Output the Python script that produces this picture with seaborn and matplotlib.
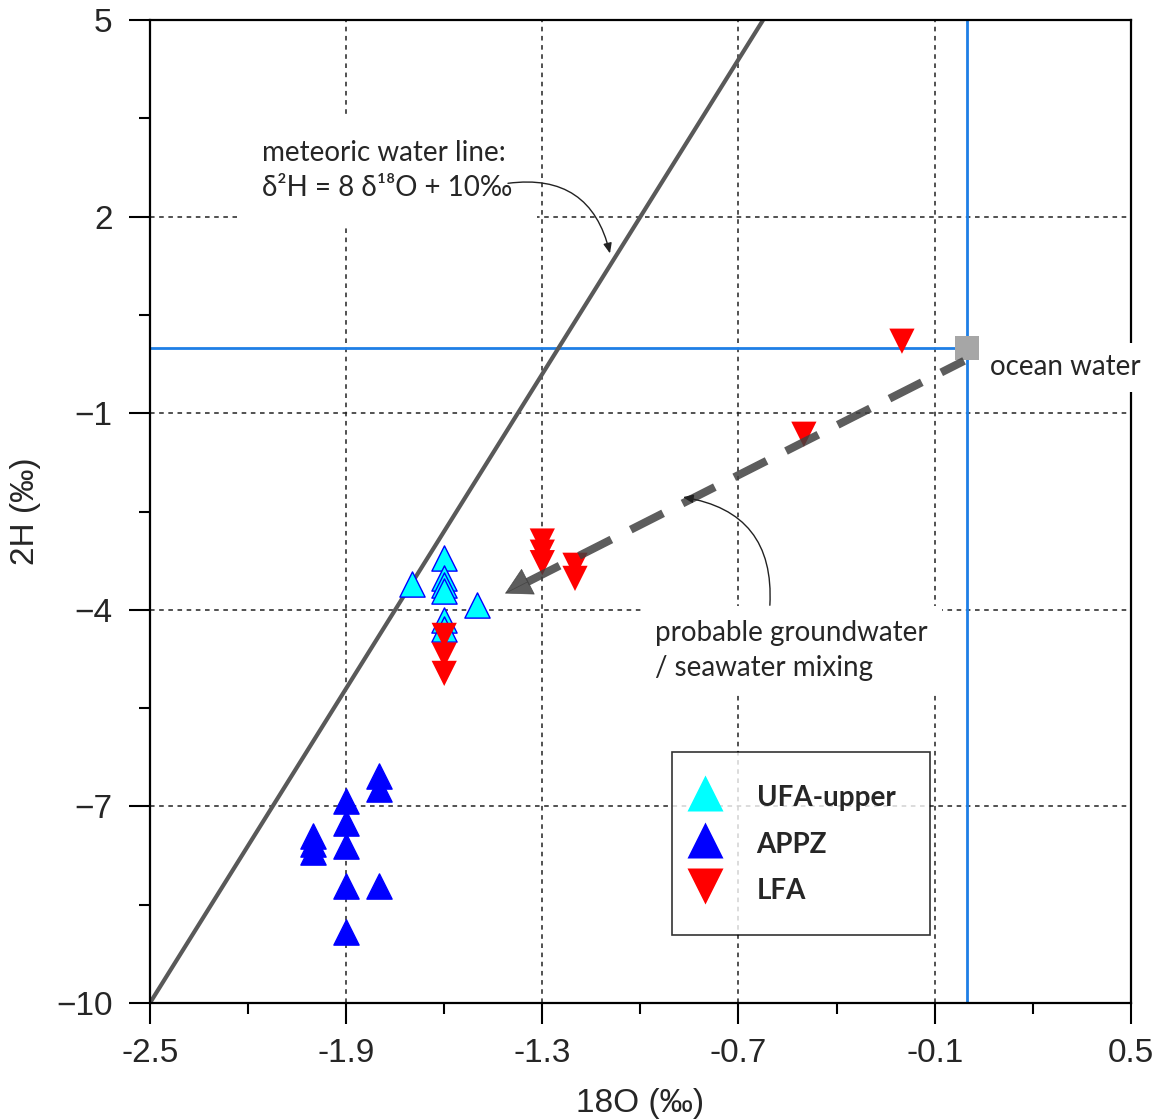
import numpy as np
import pandas as pd
import matplotlib
matplotlib.use("Agg")
import matplotlib.pyplot as plt
import seaborn as sns
from matplotlib.lines import Line2D

# ---- data ----
ufa_x = [-1.7, -1.6, -1.6, -1.6, -1.6, -1.5, -1.6, -1.6]
ufa_y = [-3.61, -3.21, -3.52, -3.62, -3.72, -3.92, -4.16, -4.30]
appz_x = [-2.0, -2.0, -2.0, -1.9, -1.9, -1.9, -1.9, -1.9, -1.8, -1.8, -1.8]
appz_y = [-7.45, -7.58, -7.70, -6.92, -7.26, -7.61, -8.21, -8.91, -6.53, -6.73, -8.21]
lfa_x = [-1.3, -1.3, -1.3, -1.2, -1.2, -1.6, -1.6, -1.6, -0.5, -0.2]
lfa_y = [-2.95, -3.12, -3.28, -3.32, -3.52, -4.39, -4.69, -4.97, -1.32, 0.10]
ocean_x, ocean_y = [0.0], [0.0]
mwl_slope, mwl_intercept = 8.0, 10.0

x_ticks = [-2.5, -1.9, -1.3, -0.7, -0.1, 0.5]
x_minor = [-2.2, -1.6, -1.0, -0.4, 0.2]
y_ticks = [-10, -7, -4, -1, 2, 5]
y_minor = [-8.5, -5.5, -2.5, 0.5, 3.5]
x_labels = ["-2.5", "-1.9", "-1.3", "-0.7", "-0.1", "0.5"]
y_labels = ["\u221210", "\u22127", "\u22124", "\u22121", "2", "5"]
legend_labels = ["UFA-upper", "APPZ", "LFA"]

sns.set_style("white")
plt.rcParams['font.family'] = ['Liberation Sans', 'DejaVu Sans']

fig = plt.figure(figsize=(11.67, 11.2), dpi=100)
ax = fig.add_axes([0.1285, 0.1045, 0.8405, 0.8775])
ax.set_xlim(-2.5, 0.5)
ax.set_ylim(-10, 5)

# grid
gkw = dict(color='#222222', lw=1.1, ls=(0, (3, 3)), zorder=0.5)
for xv in x_ticks[1:-1]:
    ax.axvline(xv, **gkw)
for yv in y_ticks[1:-1]:
    ax.axhline(yv, **gkw)

# blue reference lines (ocean water)
ax.axvline(ocean_x[0], color='#1e7fe6', lw=2, zorder=1)
ax.plot([-2.5, ocean_x[0]], [ocean_y[0], ocean_y[0]], color='#1e7fe6', lw=2, zorder=1)

# meteoric water line
mx = np.array([-2.5, (5 - mwl_intercept) / mwl_slope])
sns.lineplot(x=mx, y=mwl_slope * mx + mwl_intercept, ax=ax, color='#595959', lw=3, zorder=2)

# scatter groups
ms = 330
sns.scatterplot(x=ufa_x, y=ufa_y, ax=ax, marker='^', s=ms, color='#00ffff',
                edgecolor='#0000ff', linewidth=1, zorder=3)
sns.scatterplot(x=appz_x, y=appz_y, ax=ax, marker='^', s=ms, color='#0000ff',
                edgecolor='#0000ff', linewidth=1, zorder=3)
sns.scatterplot(x=lfa_x, y=lfa_y, ax=ax, marker='v', s=ms, color='#ff0000',
                edgecolor='none', linewidth=0, zorder=4)
sns.scatterplot(x=ocean_x, y=ocean_y, ax=ax, marker='s', s=300, color='#a6a6a6',
                edgecolor='none', zorder=4)

# dashed mixing arrow
arr_start = (-0.01, -0.2)
arr_base = (-1.346, -3.576)
arr_tip = (-1.414, -3.75)
ax.plot([arr_base[0], arr_start[0]], [arr_base[1], arr_start[1]], color='#404040',
        alpha=0.85, lw=5.8, ls=(0, (4.5, 2.7)), solid_capstyle='butt', zorder=5)
ax.annotate('', xy=arr_tip, xytext=arr_base,
            arrowprops=dict(arrowstyle='-|>,head_length=0.9,head_width=0.5',
                            mutation_scale=20, color='#404040', alpha=0.85, lw=0.5,
                            shrinkA=0, shrinkB=0),
            zorder=5)

tfont = ['Lato', 'DejaVu Sans']
# meteoric water line annotation
ax.text(-2.157, 2.71, "meteoric water line:\n\u03b4\u00b2H = 8 \u03b4\u00b9\u2078O + 10\u2030",
        fontsize=20, family=tfont, color='#262626', va='center', ha='left',
        linespacing=1.42, zorder=6,
        bbox=dict(facecolor='white', edgecolor='none', pad=18))
ax.annotate('', xy=(-1.093, 1.44), xytext=(-1.405, 2.51),
            arrowprops=dict(arrowstyle='-|>,head_length=0.6,head_width=0.25',
                            color='#222222', lw=1, connectionstyle='arc3,rad=-0.45',
                            shrinkA=0, shrinkB=0), zorder=7)

# groundwater mixing annotation
ax.text(-0.955, -4.62, "probable groundwater\n/ seawater mixing",
        fontsize=20, family=tfont, color='#262626', va='center', ha='left',
        linespacing=1.42, zorder=6,
        bbox=dict(facecolor='white', edgecolor='none', pad=10))
ax.annotate('', xy=(-0.870, -2.28), xytext=(-0.604, -3.93),
            arrowprops=dict(arrowstyle='-|>,head_length=0.6,head_width=0.25',
                            color='#222222', lw=1, connectionstyle='arc3,rad=0.45',
                            shrinkA=0, shrinkB=0), zorder=7)

# ocean water label
ax.text(0.069, -0.30, "ocean water", fontsize=20, family=tfont, color='#262626',
        va='center', ha='left', zorder=6, clip_on=False,
        bbox=dict(facecolor='white', edgecolor='none', pad=8))

# axes styling
for sp in ax.spines.values():
    sp.set_linewidth(1.6)
    sp.set_color('black')
    sp.set_zorder(2.5)
ax.set_xticks(x_ticks)
ax.set_xticklabels(x_labels)
ax.set_yticks(y_ticks)
ax.set_yticklabels(y_labels)
ax.set_xticks(x_minor, minor=True)
ax.set_yticks(y_minor, minor=True)
ax.tick_params(axis='both', which='major', direction='out', length=15, width=1.5,
               labelsize=24, color='black', bottom=True, left=True, top=False, right=False)
ax.tick_params(axis='both', which='minor', direction='out', length=8, width=1.5,
               color='black', bottom=True, left=True, top=False, right=False)
ax.tick_params(axis='x', which='major', pad=10)
ax.tick_params(axis='y', which='major', pad=12)
ax.set_xlabel("18O (\u2030)", fontsize=24, labelpad=14)
ax.set_ylabel("2H (\u2030)", fontsize=24, labelpad=11)
ax.grid(False)

# legend
handles = [
    Line2D([], [], ls='none', marker='^', markersize=26, markerfacecolor='#00ffff', markeredgecolor='none'),
    Line2D([], [], ls='none', marker='^', markersize=26, markerfacecolor='#0000ff', markeredgecolor='none'),
    Line2D([], [], ls='none', marker='v', markersize=26, markerfacecolor='#ff0000', markeredgecolor='none'),
]
leg = ax.legend(handles, legend_labels, loc='upper left',
                bbox_to_anchor=(0.532, 0.076, 0.263, 0.179), mode='expand',
                frameon=True, fancybox=False,
                prop={'family': tfont, 'weight': 'bold', 'size': 20},
                labelspacing=0.45, handletextpad=1.65, borderpad=1.0, borderaxespad=0,
                handlelength=0.4, handleheight=1.5)
leg.get_frame().set_edgecolor('black')
leg.get_frame().set_linewidth(1.2)
leg.set_zorder(8)

fig.savefig("out.png", dpi=100)
